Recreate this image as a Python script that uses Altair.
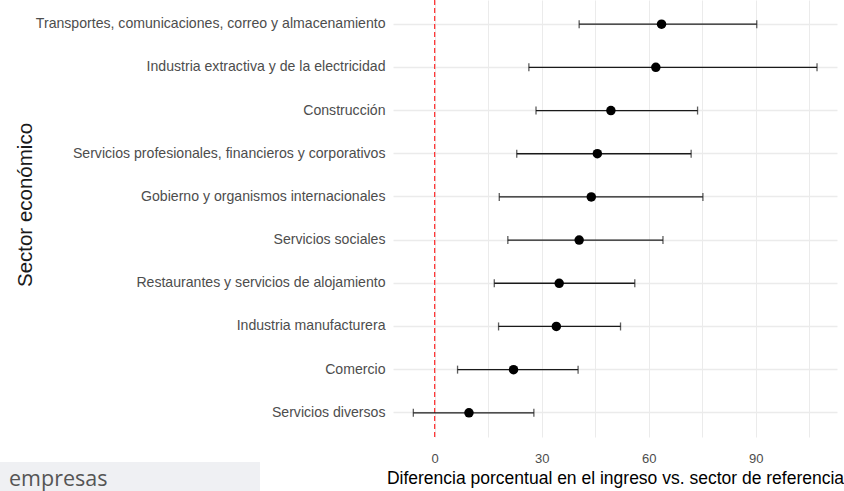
import altair as alt
import pandas as pd

sectors = [
    "Transportes, comunicaciones, correo y almacenamiento",
    "Industria extractiva y de la electricidad",
    "Construcción",
    "Servicios profesionales, financieros y corporativos",
    "Gobierno y organismos internacionales",
    "Servicios sociales",
    "Restaurantes y servicios de alojamiento",
    "Industria manufacturera",
    "Comercio",
    "Servicios diversos",
]
estimate = [63.6, 62.0, 49.4, 45.6, 43.9, 40.5, 34.9, 34.1, 22.1, 9.6]
lower = [40.5, 26.4, 28.4, 23.0, 18.1, 20.5, 16.7, 17.9, 6.4, -6.0]
upper = [90.3, 107.2, 73.7, 71.9, 75.2, 64.0, 56.1, 52.1, 40.2, 27.8]
ref_line = [0]
x_ticks = [0, 15, 30, 45, 60, 75, 90, 105]

x_title = "Diferencia porcentual en el ingreso vs. sector de referencia"
y_title = "Sector económico"
corner_text = "empresas"

df = pd.DataFrame({"sector": sectors, "est": estimate, "lo": lower, "hi": upper})

SANS = "Liberation Sans"

xscale = alt.Scale(domain=[-11.7, 112.8], nice=False, zero=False)
yscale = alt.Scale(paddingInner=0, paddingOuter=0.06)
xaxis = alt.Axis(
    values=x_ticks,
    labelExpr="datum.value % 30 == 0 ? datum.label : ''",
    title=x_title,
    grid=True, gridColor="#ebebeb", gridWidth=1,
    ticks=False, domain=False, tickSize=0,
    labelFont=SANS, labelFontSize=13, labelColor="#4d4d4d", labelPadding=15,
    titleFont=SANS, titleFontSize=17.5, titleColor="#000000", titleFontWeight="normal",
    titlePadding=4,
)
yaxis = alt.Axis(
    title=None,
    grid=True, gridColor="#ebebeb", gridWidth=1.3,
    ticks=False, domain=False, tickSize=0,
    labelFont=SANS, labelFontSize=14.1, labelColor="#4d4d4d", labelPadding=8,
    labelLimit=500,
)

base = alt.Chart(df)
X = lambda f: alt.X(f"{f}:Q", scale=xscale, axis=xaxis, title=x_title)
Y = alt.Y("sector:N", sort=sectors, scale=yscale, axis=yaxis)

ref = alt.Chart(pd.DataFrame({"v": ref_line})).mark_rule(
    color="#ff0000", strokeDash=[5, 3], strokeWidth=1
).encode(x=alt.X("v:Q", scale=xscale, axis=xaxis, title=x_title))

bars = base.mark_rule(color="#1a1a1a", strokeWidth=1.3).encode(
    x=X("lo"), x2="hi:Q", y=Y
)
cap_lo = base.mark_tick(color="#1a1a1a", size=8, thickness=1.3, orient="vertical").encode(x=X("lo"), y=Y)
cap_hi = base.mark_tick(color="#1a1a1a", size=8, thickness=1.3, orient="vertical").encode(x=X("hi"), y=Y)
pts = base.mark_circle(color="#000000", size=90, opacity=1).encode(x=X("est"), y=Y)

ytitle = alt.Chart(pd.DataFrame({"t": [y_title]})).mark_text(
    angle=270, align="center", baseline="middle", font=SANS, fontSize=20.5, color="#1a1a1a"
).encode(text="t:N", x=alt.value(26 - 393), y=alt.value(205))

box = alt.Chart(pd.DataFrame({"t": [corner_text]})).mark_rect(color="#eff0f3").encode(
    x=alt.value(-393), x2=alt.value(260 - 393), y=alt.value(462), y2=alt.value(491)
)
boxtext = alt.Chart(pd.DataFrame({"t": [corner_text]})).mark_text(
    align="left", baseline="alphabetic", font="Open Sans", fontSize=21.5, color="#555555"
).encode(text="t:N", x=alt.value(9 - 393), y=alt.value(485.5))

chart = alt.layer(ref, bars, cap_lo, cap_hi, pts, ytitle, box, boxtext).properties(
    width=444, height=437,
    autosize=alt.AutoSizeParams(type="none"),
    padding={"left": 393, "top": 0, "right": 7, "bottom": 54},
    background="#ffffff",
).configure_view(stroke=None)

chart.save("out.html", embed_options={"renderer": "svg", "actions": False})
